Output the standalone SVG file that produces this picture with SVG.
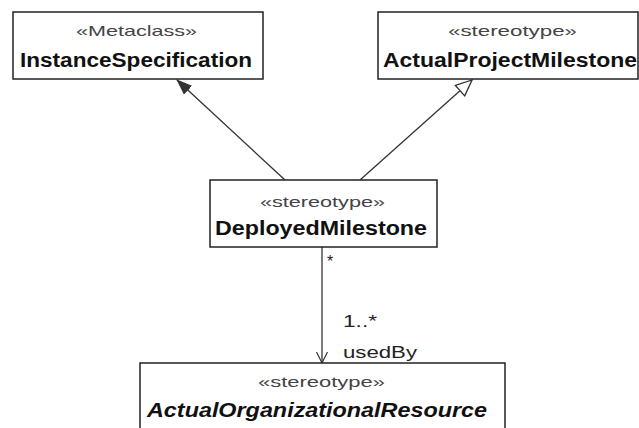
<svg xmlns="http://www.w3.org/2000/svg" width="639" height="428" viewBox="0 0 639 428">
<defs>
<style>
.box{fill:#fff;stroke:#222;stroke-width:1.5}
.st{font-family:"Liberation Sans",Arial,sans-serif;font-size:15px;fill:#444;text-anchor:start}
.nm{font-family:"Liberation Sans",Arial,sans-serif;font-size:20px;font-weight:bold;fill:#111}
.lbl{font-family:"Liberation Sans",Arial,sans-serif;font-size:16px;fill:#222}
.edge{stroke:#333;stroke-width:1.3;fill:none}
</style>
<marker id="filled" viewBox="0 0 16 12" refX="15" refY="6" markerWidth="16" markerHeight="12" markerUnits="userSpaceOnUse" orient="auto">
<path d="M0,0 L16,6 L0,12 Z" fill="#333"/>
</marker>
<marker id="hollow" viewBox="0 0 18 16" refX="17" refY="8" markerWidth="18" markerHeight="16" markerUnits="userSpaceOnUse" orient="auto">
<path d="M1,1 L17,8 L1,15 Z" fill="#fff" stroke="#333" stroke-width="1.3"/>
</marker>
<marker id="open" viewBox="0 0 12 12" refX="11" refY="6" markerWidth="12" markerHeight="12" markerUnits="userSpaceOnUse" orient="auto">
<path d="M0,0.5 L11,6 L0,11.5" fill="none" stroke="#333" stroke-width="1.2"/>
</marker>
</defs>
<rect width="639" height="428" fill="#fff"/>
<g id="connectors">
<line class="edge" x1="285" y1="180" x2="177" y2="80" marker-end="url(#filled)"/>
<line class="edge" x1="360" y1="180" x2="472" y2="80" marker-end="url(#hollow)"/>
<line class="edge" x1="322" y1="247" x2="322" y2="363" marker-end="url(#open)"/>
<text class="lbl" x="327" y="267">*</text>
<text class="lbl" x="343" y="327" textLength="34" lengthAdjust="spacingAndGlyphs">1..*</text>
<text class="lbl" x="343" y="358" textLength="74" lengthAdjust="spacingAndGlyphs">usedBy</text>
</g>
<g id="InstanceSpecification">
<rect class="box" x="13" y="12" width="250" height="67"/>
<text class="st" x="76" y="36" textLength="121" lengthAdjust="spacingAndGlyphs">«Metaclass»</text>
<text class="nm" x="20" y="67" textLength="232" lengthAdjust="spacingAndGlyphs">InstanceSpecification</text>
</g>
<g id="ActualProjectMilestone">
<rect class="box" x="378" y="12" width="260" height="67"/>
<text class="st" x="448" y="36" textLength="129" lengthAdjust="spacingAndGlyphs">«stereotype»</text>
<text class="nm" x="383" y="67" textLength="254" lengthAdjust="spacingAndGlyphs">ActualProjectMilestone</text>
</g>
<g id="DeployedMilestone">
<rect class="box" x="210" y="180" width="227" height="67"/>
<text class="st" x="260" y="207" textLength="125" lengthAdjust="spacingAndGlyphs">«stereotype»</text>
<text class="nm" x="215" y="235" textLength="212" lengthAdjust="spacingAndGlyphs">DeployedMilestone</text>
</g>
<g id="ActualOrganizationalResource">
<rect class="box" x="140" y="363" width="365" height="80"/>
<text class="st" x="258" y="387" textLength="127" lengthAdjust="spacingAndGlyphs">«stereotype»</text>
<text class="nm" x="147" y="417" font-style="italic" textLength="340" lengthAdjust="spacingAndGlyphs">ActualOrganizationalResource</text>
</g>
</svg>
